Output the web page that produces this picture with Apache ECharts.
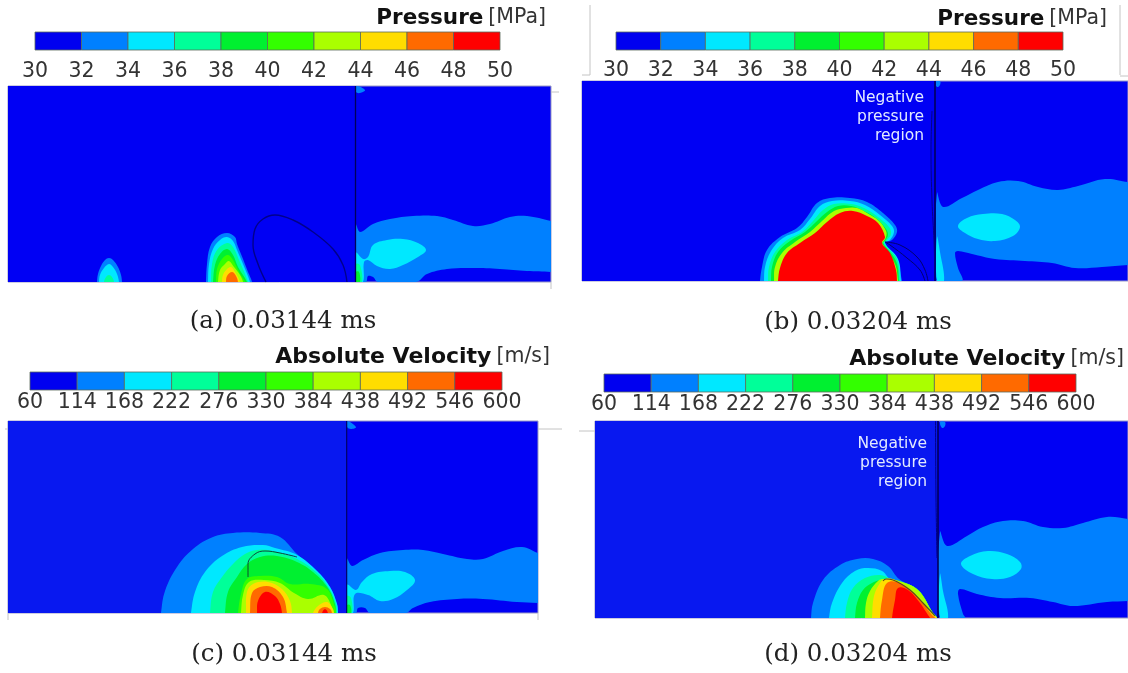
<!DOCTYPE html>
<html>
<head>
<meta charset="utf-8">
<style>
html,body{margin:0;padding:0;background:#fff;width:1128px;height:673px;overflow:hidden}
#c{width:1128px;height:673px;filter:blur(0.55px)}
</style>
<script src="https://cdn.jsdelivr.net/npm/echarts@6/dist/echarts.min.js"></script>
</head>
<body>
<div id="c"></div>
<script>
// ---- colour scale and tick labels ----
const scaleColors = ['#0000f0','#0080ff','#00e8ff','#00ff99','#00f030','#33ff00','#aaff00','#ffdd00','#ff6a00','#ff0000'];
const pressureTicks = ['30','32','34','36','38','40','42','44','46','48','50'];
const velocityTicks = ['60','114','168','222','276','330','384','438','492','546','600'];
const captions = ['(a) 0.03144 ms','(b) 0.03204 ms','(c) 0.03144 ms','(d) 0.03204 ms'];
const regionNote = 'Negative\npressure\nregion';
const BLUE=1,CYAN=2,SPRING=3,GREEN=4,LIME=5,YGREEN=6,YELLOW=7,ORANGE=8,RED=9;

// ---- panel (a) contours: [distance along domain, height above axis] ----
const aField = [[0,-3],[0,199],[347.5,199],[347.5,-3]];
const aTop = [[348,196],[357,192],[352,189],[348,190]];
const aWake = [[348,57],[352,50],[365,58],[382,63],[405,66],[429,66],[445,62],[465,56],[482,58],[502,65],[519,66],[543,61],[556,58],[556,9],[543,10],[519,11],[492,13],[465,14],[439,13],[419,8],[408,0],[370,0],[365,5],[360,6],[358,0],[348,0]];
const aFish = [[348,29],[355,23],[360,25],[365,37],[379,42],[395,43],[410,39],[418,32],[410,25],[395,17],[382,13],[369,16],[360,22],[356,20],[355,0],[348,0]];
const aRoot1 = [[348,18],[352,17],[354,0],[348,0]];
const aRoot2 = [[348,10],[351,10],[352,0],[348,0]];
const aSmall1 = [[89,0],[90,8],[93,16],[97,22],[101,24],[105,22],[110,15],[113,7],[114,0]];
const aSmall2 = [[91,0],[92,7],[96,14],[101,18],[105,15],[109,8],[111,0]];
const aSmall3 = [[96,0],[98,5],[101,7],[104,5],[106,0]];
const aBig1 = [[198,0],[199,18],[202,35],[209,45],[219,49],[227,45],[229,38],[235,23],[240,10],[244,0]];
const aBig2 = [[200,0],[201,18],[205,33],[212,42],[219,45],[225,41],[229,32],[235,18],[242,0]];
const aBig3 = [[203,0],[204,18],[209,32],[219,39],[225,35],[231,22],[240,0]];
const aBig4 = [[205,0],[207,17],[212,28],[219,33],[225,27],[230,15],[239,0]];
const aBig5 = [[208,0],[209,13],[214,23],[220,27],[225,22],[231,10],[237,0]];
const aBig6 = [[210,0],[212,12],[217,18],[221,21],[226,15],[232,7],[235,0]];
const aBig7 = [[214,0],[215,7],[219,13],[223,15],[227,10],[232,0]];
const aBig8 = [[218,0],[219,6],[224,10],[228,6],[230,0]];
const aBubble = [[258,0],[250,18],[245,37],[247,53],[255,63],[267,67],[285,62],[305,50],[325,33],[335,17],[339,0]];
const aWall = [[347.5,196],[347.5,0]];

// ---- panel (b) contours ----
const bField = [[0,-3],[0,203],[354,203],[354,-3]];
const bTop = [[353,200],[358,200],[358,196],[355,194]];
const bWake = [[355,88],[361,74],[380,83],[396,91],[416,99],[436,100],[456,94],[476,91],[496,95],[523,102],[546,99],[560,97],[560,17],[546,16],[520,14],[493,13],[470,18],[443,20],[413,22],[390,27],[376,30],[373,28],[376,13],[380,0],[355,0]];
const bEllipse = [[376,55],[385,63],[401,67],[420,67],[433,61],[438,54],[431,45],[413,40],[396,42],[383,48]];
const bSliver = [[355,44],[358,29],[362,0],[355,0]];
const bFront1 = [[178,0],[180,14],[185,31],[198,44],[215,53],[225,64],[235,78],[248,83],[268,83],[285,79],[301,68],[313,56],[315,49],[310,41],[303,38],[314,23],[320,0]];
const bFront2 = [[182,0],[183,14],[189,30],[201,43],[218,51],[228,62],[238,75],[250,80],[268,80],[283,76],[298,66],[310,55],[312,49],[308,41],[303,38],[316,22],[319,0]];
const bFront3 = [[186,0],[187,14],[193,29],[205,41],[220,49],[231,60],[241,71],[252,77],[269,77],[282,73],[296,64],[307,54],[309,47],[305,41],[302,38],[315,22],[318,0]];
const bFront4 = [[189,0],[190,14],[196,29],[208,40],[223,49],[235,60],[245,69],[256,75],[269,75],[282,70],[295,62],[304,52],[306,46],[303,40],[301,38],[314,20],[317,0]];
const bFront5 = [[192,0],[193,14],[200,28],[213,39],[228,49],[240,60],[252,70],[264,73],[275,73],[285,68],[297,60],[304,50],[304,44],[301,39],[300,38],[313,17],[316,0]];
const bCore = [[196,0],[198,13],[205,28],[218,38],[233,48],[245,59],[258,68],[271,70],[285,65],[296,58],[303,44],[300,38],[308,28],[314,11],[315,0]];
const bVapor1 = [[303,39],[318,36],[335,24],[343,11],[346,0]];
const bVapor2 = [[303,39],[308,36],[325,23],[338,11],[343,0]];
const bWall = [[353,200],[353,0]];
const bWall2 = [[350,170],[349,130],[350,80],[352,40],[353,0]];

// ---- panel (c) contours ----
const cField = [[0,-3],[0,195],[339,195],[339,-3]];
const cTop = [[339,192],[348,186],[343,184],[339,186]];
const cWake = [[339,54],[344,47],[355,53],[372,60],[395,63],[415,63],[435,59],[459,54],[475,54],[495,62],[514,66],[530,60],[544,56],[544,9],[530,10],[509,11],[475,14],[449,14],[422,11],[405,5],[398,0],[362,0],[357,5],[350,5],[348,0],[339,0]];
const cFish = [[339,28],[348,23],[354,31],[364,39],[382,42],[397,41],[407,33],[399,23],[385,14],[372,12],[360,18],[347,19],[345,0],[339,0]];
const cRoot1 = [[339,17],[343,15],[344,0],[339,0]];
const cRoot2 = [[339,8],[342,8],[343,0],[339,0]];
const cDome1 = [[153,0],[157,22],[169,46],[185,64],[205,76],[225,80],[252,80],[272,76],[289,59],[309,42],[322,26],[329,9],[330,0]];
const cDome2 = [[183,0],[187,21],[197,41],[214,57],[234,66],[255,68],[267,65],[289,58],[309,42],[322,26],[329,9],[330,0]];
const cDome3 = [[202,0],[205,21],[214,36],[225,49],[237,59],[249,63],[265,62],[289,54],[308,41],[321,25],[328,9],[329,0]];
const cDome4 = [[217,0],[220,21],[229,36],[239,49],[252,56],[269,57],[289,51],[305,41],[320,25],[327,9],[328,0]];
const cDome5 = [[230,0],[233,19],[239,34],[252,37],[269,36],[282,29],[302,29],[319,24],[327,6],[328,0]];
const cDome6 = [[233,0],[235,18],[241,31],[256,33],[272,30],[286,20],[300,14],[316,18],[324,6],[325,0]];
const cDome7 = [[238,0],[239,21],[245,29],[260,31],[274,24],[282,12],[284,0]];
const cDome8 = [[242,0],[244,20],[252,26],[264,26],[275,16],[279,0]];
const cDome9 = [[249,0],[250,12],[257,21],[267,17],[272,9],[274,0]];
const cSide1 = [[305,0],[310,7],[319,11],[325,4],[326,0]];
const cSide2 = [[310,0],[312,4],[317,6],[322,4],[324,0]];
const cSide3 = [[314,0],[317,4],[320,0]];
const cBubble = [[240,36],[240,49],[247,59],[257,62],[272,60],[289,56]];
const cWall = [[338.7,192],[338.7,0]];

// ---- panel (d) contours ----
const dField = [[0,-3],[0,200],[343,200],[343,-3]];
const dTop = [[345,196],[350,196],[350,192],[347,190]];
const dWake = [[345,86],[352,72],[372,82],[388,91],[408,97],[428,97],[448,91],[468,90],[488,95],[512,101],[533,99],[547,97],[547,18],[533,17],[512,16],[478,12],[458,16],[435,20],[405,20],[382,24],[365,29],[363,24],[368,4],[370,0],[345,0]];
const dEllipse = [[366,54],[375,62],[393,67],[412,64],[425,56],[426,49],[415,41],[397,39],[378,44]];
const dSliver = [[345,44],[348,27],[353,0],[345,0]];
const dDome1 = [[216,0],[218,15],[228,38],[245,53],[262,59],[278,59],[293,52],[304,39],[323,28],[338,5],[342,0]];
const dDome2 = [[234,0],[237,15],[247,35],[260,47],[273,50],[287,47],[295,39],[304,37],[323,28],[338,5],[342,0]];
const dDome3 = [[250,0],[252,15],[258,30],[270,40],[285,43],[296,39],[304,37],[323,28],[338,5],[342,0]];
const dDome4 = [[260,0],[262,15],[268,28],[277,35],[285,38],[291,39],[304,37],[323,28],[338,5],[342,0]];
const dDome5 = [[270,0],[271,15],[275,27],[283,37],[288,39],[304,37],[323,28],[338,5],[342,0]];
const dDome6 = [[277,0],[279,22],[285,35],[290,39],[300,38],[315,28],[333,8],[342,0]];
const dDome7 = [[285,0],[287,18],[292,35],[305,35],[322,22],[337,3],[340,0]];
const dDome8 = [[297,0],[300,18],[303,30],[313,28],[325,15],[333,3],[335,0]];
const dEdge = [[288,37],[291,39],[298,38],[315,28],[328,15],[340,2]];
const dWall = [[343,197],[343,0]];
const dWall2 = [[340.5,197],[341,120],[342,60]];

// ---- assembling: contour list and overlay lines of each panel ----
const panels = [
 {left:8,top:86,width:543,height:196,xMax:543,yMax:196,
  contours:[[aWake,BLUE],[aFish,CYAN],[aRoot1,SPRING],[aRoot2,GREEN],[aTop,BLUE],[aField,'#0000f4',true],
   [aSmall1,BLUE],[aSmall2,CYAN],[aSmall3,SPRING],
   [aBig1,BLUE],[aBig2,CYAN],[aBig3,SPRING],[aBig4,GREEN],[aBig5,LIME],[aBig6,YGREEN],[aBig7,YELLOW],[aBig8,ORANGE]],
  lines:[[aBubble,1.4,'#00008c',true],[aWall,1.3,'#00005a',false]]},
 {left:582,top:81,width:546,height:200,xMax:546,yMax:200,
  contours:[[bWake,BLUE],[bEllipse,CYAN],[bSliver,CYAN],[bTop,BLUE],[bField,'#0000f4',true],
   [bFront1,BLUE],[bFront2,CYAN],[bFront3,SPRING],[bFront4,GREEN],[bFront5,YGREEN],[bCore,RED]],
  lines:[[bVapor1,1,'#00006e',true],[bVapor2,1,'#00006e',true],[bWall,1.6,'#00005a',false],[bWall2,1,'#00008c',true]]},
 {left:8,top:421,width:530,height:192,xMax:530,yMax:192,
  contours:[[cWake,BLUE],[cFish,CYAN],[cRoot1,SPRING],[cRoot2,GREEN],[cTop,BLUE],[cField,'#0818f0',true],
   [cDome1,BLUE],[cDome2,CYAN],[cDome3,SPRING],[cDome4,GREEN],[cDome5,LIME],[cDome6,YGREEN],[cDome7,YELLOW],[cDome8,ORANGE],[cDome9,RED],
   [cSide1,YELLOW],[cSide2,ORANGE],[cSide3,RED]],
  lines:[[cBubble,0.9,'#103030',true],[cWall,1.1,'#00005a',false]]},
 {left:595,top:421,width:533,height:197,xMax:533,yMax:197,
  contours:[[dWake,BLUE],[dEllipse,CYAN],[dSliver,CYAN],[dTop,BLUE],[dField,'#0818f0',true],
   [dDome1,BLUE],[dDome2,CYAN],[dDome3,SPRING],[dDome4,GREEN],[dDome5,YGREEN],[dDome6,YELLOW],[dDome7,ORANGE],[dDome8,RED]],
  lines:[[dEdge,1.1,'#5a4a20',true],[dWall,1.6,'#00005a',false],[dWall2,1,'#00008c',true]]}
];
const bars = [
 {left:35,top:32,width:465,height:18,ticks:pressureTicks,size:20.5,margin:11},
 {left:616,top:32,width:447,height:18,ticks:pressureTicks,size:20.5,margin:10},
 {left:30,top:372,width:472,height:18,ticks:velocityTicks,size:20.5,margin:2},
 {left:604,top:374,width:472,height:18,ticks:velocityTicks,size:20.5,margin:2}
];
const headings = [
 {text:'{p|Pressure} {r|[MPa]}',right:582,top:7},
 {text:'{p|Pressure} {r|[MPa]}',right:21,top:8},
 {text:'{v|Absolute Velocity} {r|[m/s]}',right:578,top:346},
 {text:'{v|Absolute Velocity} {r|[m/s]}',right:4,top:348}
];
const captionPos = [[283,309],[858,310],[284,642],[858,642]];
const notePos = [[924,88],[927,434]];

// contours that stand on the axis are closed just below it, so the smoothed outline leaves the axis steeply
function closeBelowAxis(pts){
  const a=pts[0],z=pts[pts.length-1];
  return a[1]===0&&z[1]===0?[[a[0],-6],...pts,[z[0],-6]]:pts;
}
const grid=[],xAxis=[],yAxis=[],series=[];
panels.forEach((p,i)=>{
  grid.push({left:p.left,top:p.top,width:p.width,height:p.height,show:true,backgroundColor:'#0000f4',borderColor:'#9a9ac4',borderWidth:1});
  xAxis.push({type:'value',gridIndex:i,min:0,max:p.xMax,show:false});
  yAxis.push({type:'value',gridIndex:i,min:0,max:p.yMax,show:false});
  series.push({type:'custom',xAxisIndex:i,yAxisIndex:i,clip:true,silent:true,animation:false,
    data:p.contours.map((c,k)=>[k,0]),
    renderItem(params,api){
      const c=p.contours[params.dataIndex];
      const color=typeof c[1]==='string'?c[1]:scaleColors[c[1]];
      return {type:'polygon',shape:{points:closeBelowAxis(c[0]).map(q=>api.coord(q)),smooth:c[2]?0:0.38},style:{fill:color}};
    }});
  p.lines.forEach(l=>series.push({type:'line',xAxisIndex:i,yAxisIndex:i,data:l[0],showSymbol:false,smooth:l[3]?0.4:false,silent:true,animation:false,
    lineStyle:{color:l[2],width:l[1]}}));
});
bars.forEach((b,k)=>{
  const i=k+4;
  grid.push({left:b.left,top:b.top,width:b.width,height:b.height});
  xAxis.push({type:'value',gridIndex:i,min:0,max:10,interval:1,axisLine:{show:false},axisTick:{show:false},splitLine:{show:false},
    axisLabel:{show:true,color:'#333',fontFamily:'DejaVu Sans',fontSize:b.size,margin:b.margin,hideOverlap:false,showMinLabel:true,showMaxLabel:true,formatter:v=>b.ticks[v]}});
  yAxis.push({type:'value',gridIndex:i,min:0,max:1,show:false});
  series.push({type:'custom',xAxisIndex:i,yAxisIndex:i,silent:true,animation:false,
    data:scaleColors.map((c,n)=>[n,n+1]),
    renderItem(params,api){
      const a=api.coord([api.value(0),1]),e=api.coord([api.value(1),0]);
      return {type:'rect',shape:{x:a[0],y:a[1],width:e[0]-a[0],height:e[1]-a[1]},
        style:{fill:scaleColors[params.dataIndex],stroke:'#5b6b5b',lineWidth:0.8}};
    }});
});
const rich={
  p:{fontFamily:'DejaVu Sans',fontWeight:'bold',fontSize:21.5,color:'#111'},
  v:{fontFamily:'DejaVu Sans',fontWeight:'bold',fontSize:22,color:'#111'},
  r:{fontFamily:'DejaVu Sans',fontWeight:'normal',fontSize:20.5,color:'#333'}};
const title=[];
headings.forEach(h=>title.push({text:h.text,right:h.right,top:h.top,padding:0,textStyle:{rich}}));
captions.forEach((t,i)=>title.push({text:t,left:captionPos[i][0],top:captionPos[i][1],padding:0,textAlign:'center',
  textStyle:{fontFamily:'DejaVu Serif',fontWeight:'normal',fontSize:24.5,color:'#222'}}));
notePos.forEach(n=>title.push({text:regionNote,left:n[0],top:n[1],padding:0,textAlign:'right',
  textStyle:{fontFamily:'DejaVu Sans',fontWeight:'normal',fontSize:15.5,lineHeight:19,color:'#e2eaff',align:'right'}}));

// thin crop marks left over around the panels
const marks=[[551,92,559,92],[551,282,551,289],[590,5,590,75],[582,75,590,75],[1120,5,1120,75],[1120,76,1128,76],
 [5,429,8,429],[538,429,562,429],[8,613,8,620],[538,613,538,620],[579,431,595,431]];
const graphic=marks.map(m=>({type:'line',shape:{x1:m[0],y1:m[1],x2:m[2],y2:m[3]},style:{stroke:'#c4c4c4',lineWidth:1},silent:true}));

const chart=echarts.init(document.getElementById('c'),null,{width:1128,height:673,renderer:'canvas'});
chart.setOption({animation:false,backgroundColor:'#fff',title,grid,xAxis,yAxis,series,graphic,tooltip:{show:false},legend:{show:false}});
</script>
</body>
</html>
